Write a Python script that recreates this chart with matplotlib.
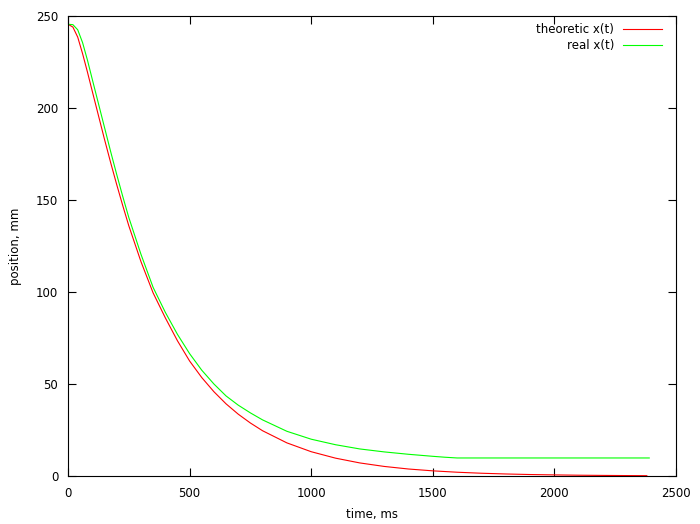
import matplotlib
matplotlib.use("Agg")
import matplotlib.pyplot as plt

t_theory = [0, 20, 40, 60, 80, 100, 125, 150, 175, 200, 225, 250, 300, 350, 400,
            450, 500, 550, 600, 650, 700, 750, 800, 900, 1000, 1100, 1200, 1300,
            1400, 1500, 1600, 1700, 1800, 1900, 2000, 2100, 2200, 2300, 2380]
x_theory = [245.5, 244.0, 238.5, 229.5, 219.5, 209.0, 196.0, 183.0, 170.5, 158.5,
            147.0, 136.0, 116.5, 99.5, 86.0, 73.5, 62.5, 53.5, 45.8, 39.2, 33.6,
            28.8, 24.6, 18.0, 13.2, 9.7, 7.1, 5.2, 3.8, 2.8, 2.05, 1.5, 1.1, 0.8,
            0.6, 0.43, 0.32, 0.23, 0.18]

t_real = [0, 20, 40, 60, 80, 100, 125, 150, 175, 200, 225, 250, 300, 350, 400,
          450, 500, 550, 600, 650, 700, 750, 800, 900, 1000, 1100, 1200, 1300,
          1400, 1500, 1550, 1600, 1700, 1800, 1900, 2000, 2100, 2200, 2300, 2390]
x_real = [245.5, 245.3, 242.5, 235.5, 226.0, 215.5, 202.5, 189.5, 176.5, 164.0,
          152.0, 140.5, 120.5, 102.5, 89.0, 77.0, 66.5, 57.5, 50.0, 43.5, 38.5,
          34.3, 30.5, 24.3, 20.0, 17.0, 14.7, 13.1, 11.8, 10.7, 10.2, 9.8, 9.8,
          9.8, 9.8, 9.8, 9.8, 9.8, 9.8, 9.8]

x_ticks = [0, 500, 1000, 1500, 2000, 2500]
y_ticks = [0, 50, 100, 150, 200, 250]

plt.rcParams['font.family'] = ['DejaVu Sans']

fig = plt.figure(figsize=(7.0, 5.24), dpi=100)
ax = fig.add_axes([68/700, 1-476/524, (676-68)/700, (476-16)/524])

ax.plot(t_theory, x_theory, color='#ff0000', lw=0.8, label='theoretic x(t)')
ax.plot(t_real, x_real, color='#00ff00', lw=0.8, label='real x(t)')

ax.set_xlim(0, 2500)
ax.set_ylim(0, 250)
ax.set_xticks(x_ticks)
ax.set_yticks(y_ticks)
ax.tick_params(direction='in', length=6, width=0.8, top=True, right=True,
               labelsize=8.5, pad=7)
ax.tick_params(axis='x', pad=8)
for s in ax.spines.values():
    s.set_linewidth(0.8)

ax.set_xlabel('time, ms', fontsize=8.5, labelpad=6)
ax.set_ylabel('position, mm', fontsize=8.5, labelpad=10)

ax.legend(loc='upper right', frameon=False, markerfirst=False, fontsize=8.5,
          handlelength=3.3, handletextpad=0.75, labelspacing=0.25,
          borderaxespad=1.0, borderpad=0.2,
          bbox_to_anchor=(1.0, 1.015))

fig.savefig('out.png', dpi=100)
